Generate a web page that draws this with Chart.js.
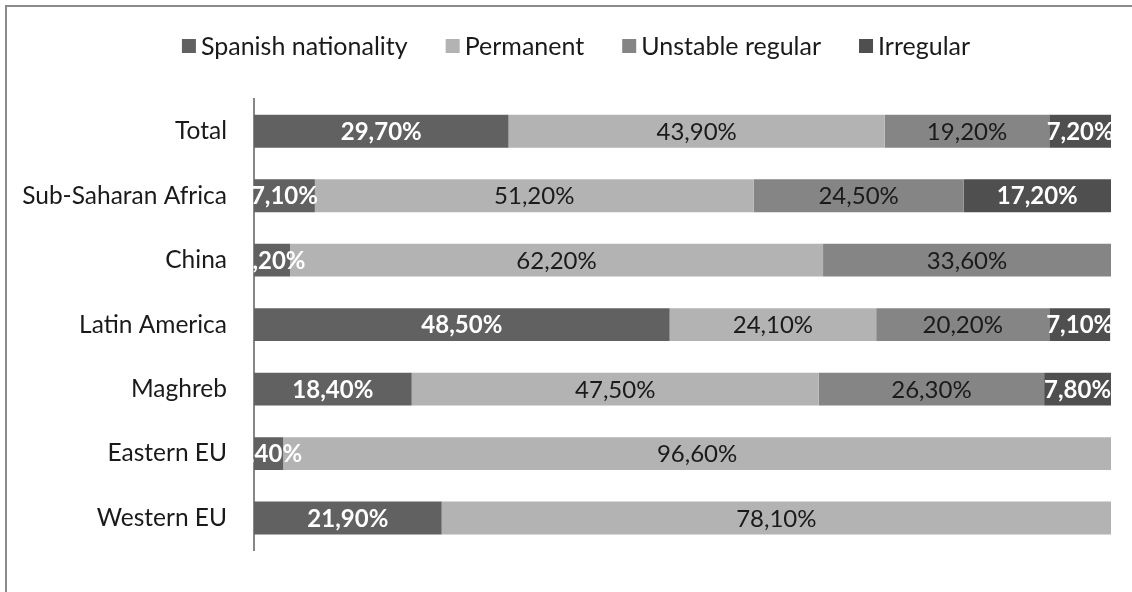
<!DOCTYPE html>
<html>
<head>
<meta charset="utf-8">
<script src="https://cdn.jsdelivr.net/npm/chart.js@4"></script>
<style>
  html, body { margin: 0; padding: 0; background: #fff; }
  #wrap { position: relative; width: 1132px; height: 592px; overflow: hidden; }
  #frame { position: absolute; left: 5px; top: 5px; width: 2000px; height: 2000px;
           border-left: 2px solid #8a8a8a; border-top: 2px solid #8a8a8a; }
  canvas { position: absolute; left: 0; top: 0; }
</style>
</head>
<body>
<div id="wrap">
  <div id="frame"></div>
  <canvas id="chart" width="1132" height="592"></canvas>
</div>
<script>
// regions (top to bottom)
const regions = ['Total', 'Sub-Saharan Africa', 'China', 'Latin America', 'Maghreb', 'Eastern EU', 'Western EU'];

// % of people by legal situation
const spanishNationality = [29.7, 7.1, 4.2, 48.5, 18.4, 3.4, 21.9];
const permanent          = [43.9, 51.2, 62.2, 24.1, 47.5, 96.6, 78.1];
const unstableRegular    = [19.2, 24.5, 33.6, 20.2, 26.3, null, null];
const irregular          = [7.2, 17.2, null, 7.1, 7.8, null, null];

const FONT = 'Lato';

// labels on top of each segment, cut at the plot edge like the original
const segmentLabels = {
    id: 'segmentLabels',
    afterDatasetsDraw(chart) {
        const ctx = chart.ctx;
        const area = chart.chartArea;
        ctx.save();
        ctx.beginPath();
        ctx.rect(area.left - 2, area.top, area.right - area.left + 4, area.bottom - area.top);
        ctx.clip();
        ctx.textAlign = 'center';
        ctx.textBaseline = 'middle';
        chart.data.datasets.forEach((ds, i) => {
            const meta = chart.getDatasetMeta(i);
            meta.data.forEach((bar, j) => {
                const v = ds.data[j];
                if (v == null) return;
                const txt = v.toFixed(2).replace('.', ',') + '%';
                ctx.font = (ds.whiteLabel ? 'bold ' : '') + '24px ' + FONT;
                ctx.fillStyle = ds.whiteLabel ? '#ffffff' : '#1a1a1a';
                ctx.fillText(txt, (bar.x + bar.base) / 2, bar.y + 1);
            });
        });
        ctx.restore();
    }
};

// legend drawn in one centred row
const topLegend = {
    id: 'topLegend',
    afterDraw(chart) {
        const ctx = chart.ctx;
        const box = 14, gapText = 5, gapItem = 38, y = 46;
        ctx.save();
        ctx.font = '25px ' + FONT;
        ctx.textBaseline = 'middle';
        ctx.textAlign = 'left';
        const items = chart.data.datasets.map(ds => ({
            label: ds.label, color: ds.backgroundColor, w: ctx.measureText(ds.label).width
        }));
        let total = 0;
        items.forEach((it, k) => { total += box + gapText + it.w + (k ? gapItem : 0); });
        let x = 576 - total / 2;
        items.forEach(it => {
            ctx.fillStyle = it.color;
            ctx.fillRect(x, y - box / 2, box, box);
            ctx.fillStyle = '#1a1a1a';
            ctx.fillText(it.label, x + box + gapText, y + 1);
            x += box + gapText + it.w + gapItem;
        });
        ctx.restore();
    }
};

const ctx = document.getElementById('chart').getContext('2d');
new Chart(ctx, {
    type: 'bar',
    data: {
        labels: regions,
        datasets: [
            { label: 'Spanish nationality', data: spanishNationality, backgroundColor: '#616161', whiteLabel: true },
            { label: 'Permanent', data: permanent, backgroundColor: '#b3b3b3' },
            { label: 'Unstable regular', data: unstableRegular, backgroundColor: '#858585' },
            { label: 'Irregular', data: irregular, backgroundColor: '#4f4f4f', whiteLabel: true }
        ]
    },
    options: {
        indexAxis: 'y',
        responsive: false,
        animation: false,
        layout: { padding: { top: 99, bottom: 25, right: 21, left: 0 } },
        datasets: { bar: { categoryPercentage: 1, barPercentage: 0.51 } },
        plugins: {
            legend: { display: false },
            tooltip: { enabled: false }
        },
        scales: {
            x: { stacked: true, min: 0, max: 100, display: false },
            y: {
                stacked: true,
                grid: { display: false, drawTicks: false },
                border: { display: true, color: '#878787', width: 2 },
                ticks: { font: { family: FONT, size: 24.5 }, color: '#1a1a1a', padding: 27 },
                afterFit(scale) { scale.width = 254; }
            }
        }
    },
    plugins: [segmentLabels, topLegend]
});
</script>
</body>
</html>
